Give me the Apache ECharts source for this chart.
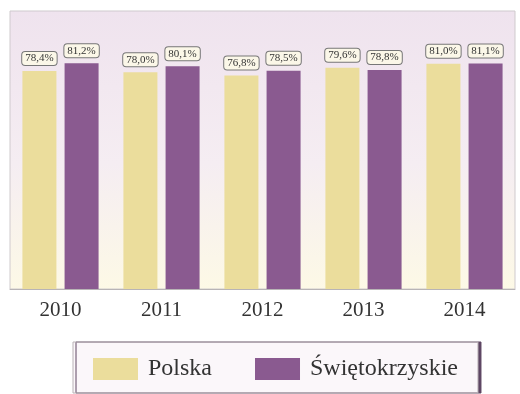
<!DOCTYPE html>
<html>
<head>
<meta charset="utf-8">
<script src="https://cdn.jsdelivr.net/npm/echarts@6/dist/echarts.min.js"></script>
<style>
  html, body { margin: 0; padding: 0; background: #fff; }
  #chart { width: 520px; height: 394px; }
</style>
</head>
<body>
<div id="chart"></div>
<script>
var years = ['2010', '2011', '2012', '2013', '2014'];
var polska = [78.4, 78.0, 76.8, 79.6, 81.0];
var swietokrzyskie = [81.2, 80.1, 78.5, 78.8, 81.1];

function pct(p) {
  return p.value.toFixed(1).replace('.', ',') + '%';
}

var labelStyle = {
  show: true,
  position: 'top',
  distance: 6,
  formatter: pct,
  fontFamily: 'Liberation Serif',
  fontSize: 11,
  color: '#333',
  backgroundColor: '#fbf7e8',
  borderColor: '#777',
  borderWidth: 1,
  borderRadius: 3,
  padding: [1, 3]
};

var chart = echarts.init(document.getElementById('chart'));
chart.setOption({
  backgroundColor: '#fff',
  animation: false,
  grid: {
    left: 10,
    right: 5,
    top: 11,
    bottom: 105,
    show: true,
    borderColor: '#cfcacd',
    borderWidth: 1,
    backgroundColor: {
      type: 'linear', x: 0, y: 0, x2: 0, y2: 1,
      colorStops: [
        { offset: 0, color: '#efe3ee' },
        { offset: 0.55, color: '#f5edf2' },
        { offset: 1, color: '#fdf9e6' }
      ]
    }
  },
  legend: {
    left: 73,
    top: 342,
    padding: [15, 20, 12, 20],
    itemWidth: 45,
    itemHeight: 22,
    itemGap: 43,
    icon: 'rect',
    backgroundColor: '#fbf7fa',
    borderColor: '#b9b2b6',
    borderWidth: 1,
    shadowColor: '#5e4663',
    shadowOffsetX: 3,
    shadowBlur: 0,
    textStyle: { fontFamily: 'Liberation Serif', fontSize: 24, color: '#333', padding: [0, 0, 0, 5] },
    data: ['Polska', 'Świętokrzyskie']
  },
  xAxis: {
    type: 'category',
    data: years,
    axisTick: { show: false },
    axisLine: { lineStyle: { color: '#b8b4b6' } },
    axisLabel: { fontFamily: 'Liberation Serif', fontSize: 21, color: '#333', margin: 11 }
  },
  yAxis: {
    type: 'value',
    min: 0,
    max: 100,
    show: false,
    splitLine: { show: false }
  },
  series: [
    {
      name: 'Polska',
      type: 'bar',
      data: polska,
      barWidth: 34,
      barGap: '24%',
      itemStyle: { color: '#ebdd9c' },
      label: labelStyle
    },
    {
      name: 'Świętokrzyskie',
      type: 'bar',
      data: swietokrzyskie,
      barWidth: 34,
      itemStyle: { color: '#8a5a90' },
      label: labelStyle
    }
  ]
});
</script>
</body>
</html>
